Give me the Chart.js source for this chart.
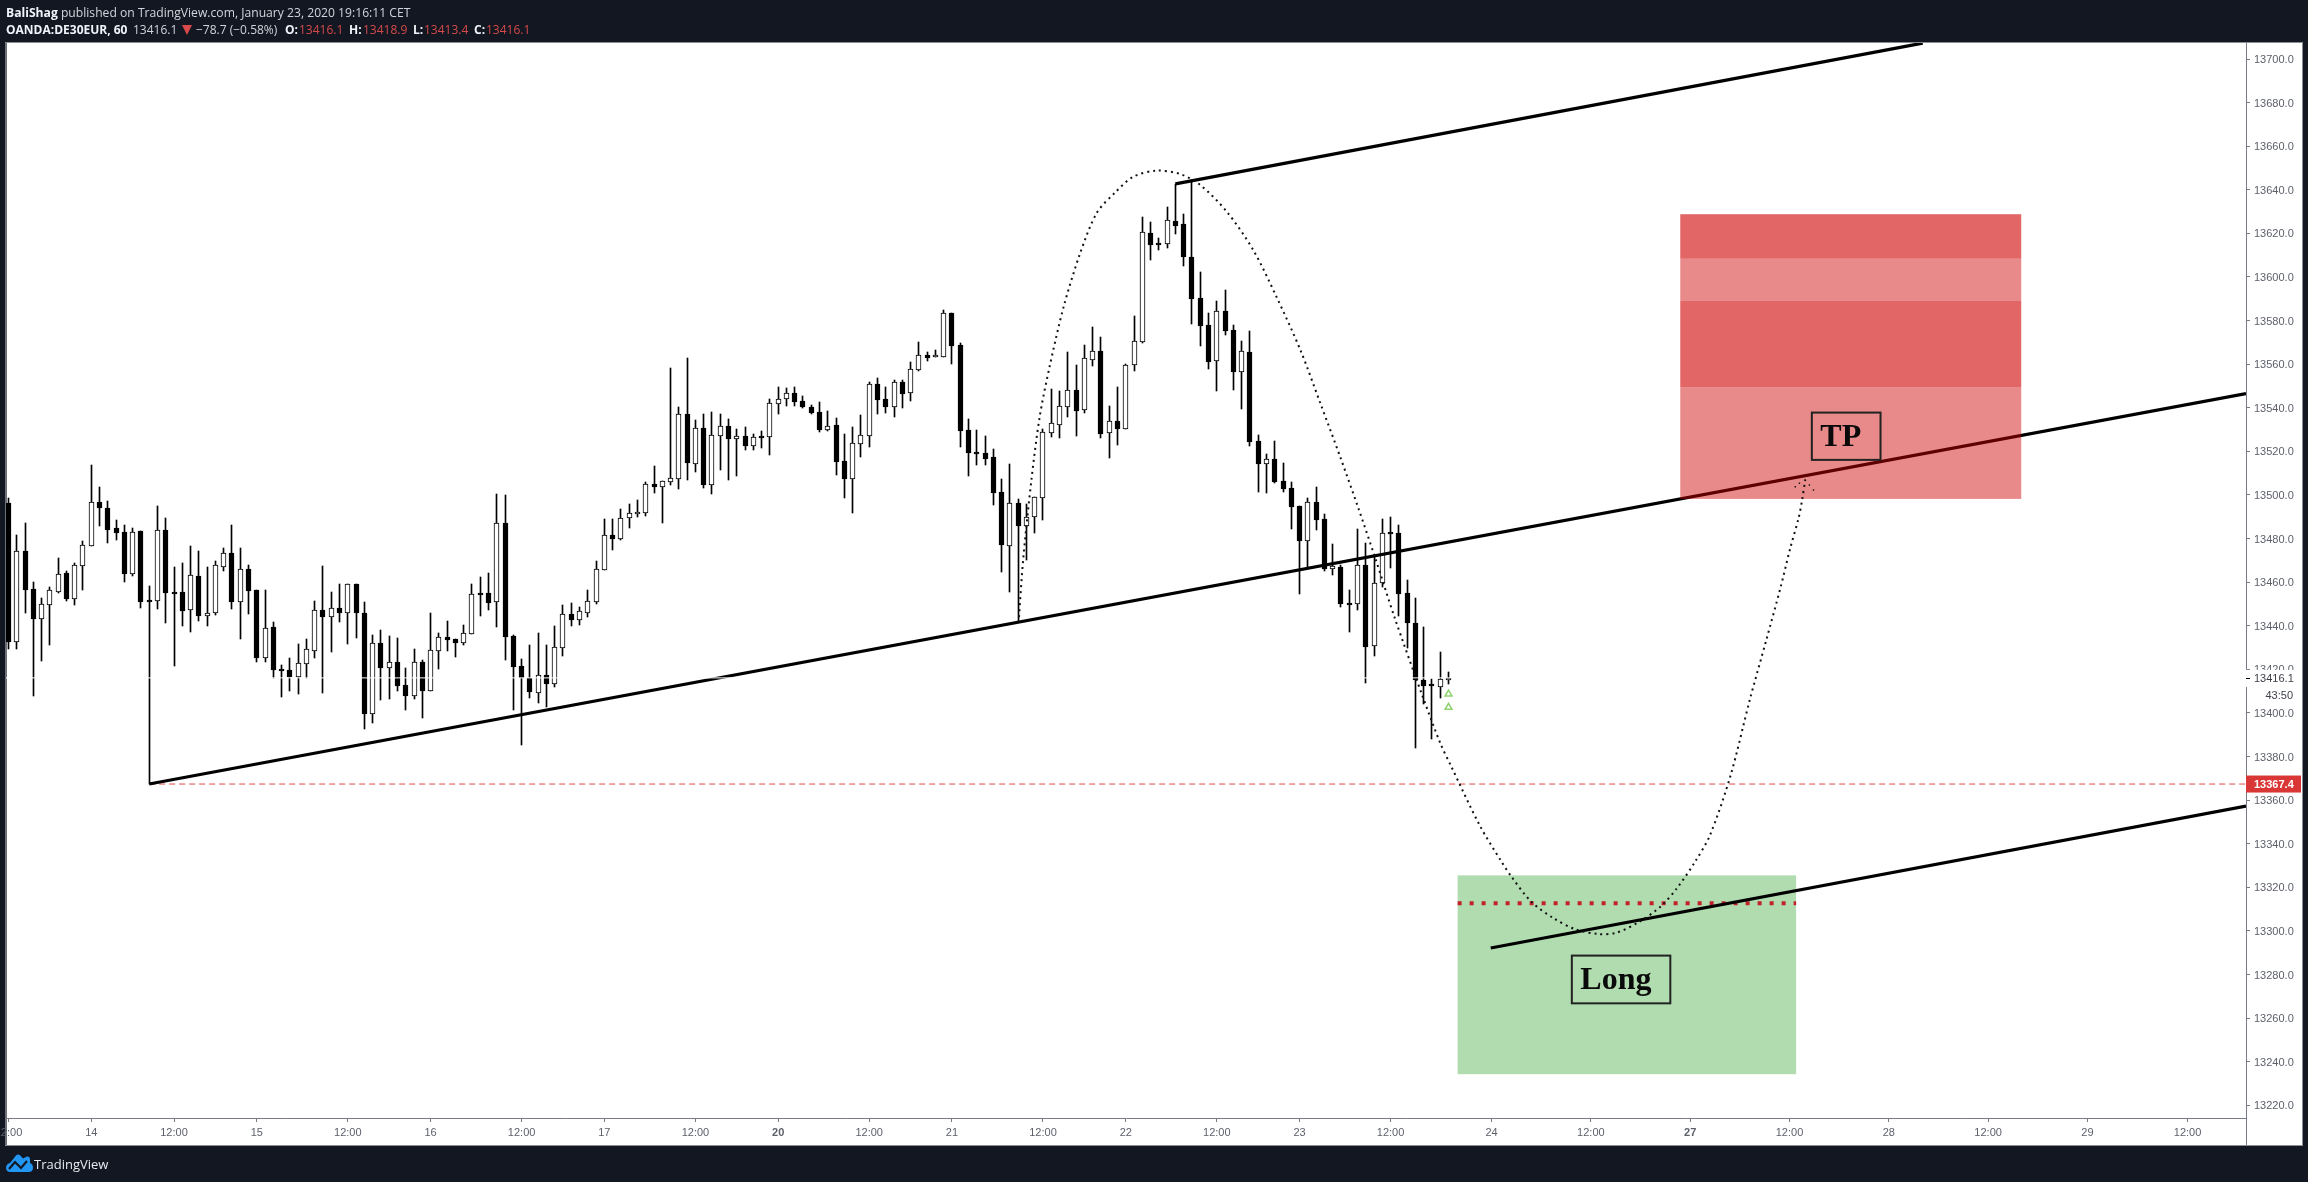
<!DOCTYPE html>
<html lang="en">

<head>
  <meta charset="UTF-8">
  <title>OANDA:DE30EUR, 60</title>
  <script src="https://cdn.jsdelivr.net/npm/chart.js"></script>
  <style>
    body {
      margin: 0;
      background-color: #131722;
      font-family: "Open Sans", sans-serif;
      font-size: 12px;
      color: #d1d4dc;
    }

    canvas {
      position: absolute;
      left: 0;
      top: 0;
    }

    .hd {
      position: absolute;
      white-space: nowrap;
      line-height: 16px;
    }

    .hd b {
      color: #f0f3fa;
    }

    .red {
      color: #d84a4a;
    }

    .down-arrow {
      position: absolute;
      left: 182px;
      top: 25px;
      width: 0;
      height: 0;
      border-left: 5px solid transparent;
      border-right: 5px solid transparent;
      border-top: 10px solid #d84a4a;
    }
  </style>
</head>

<body>
  <canvas id="priceChart" width="2308" height="1182"></canvas>

  <div class="hd" style="left:6px;top:5px;font-size:12.150px"><b>BaliShag</b> published on TradingView.com, January 23, 2020 19:16:11 CET</div>
  <div class="hd" style="left:6px;top:22px"><b>OANDA:DE30EUR, 60</b></div>
  <div class="hd" style="left:133px;top:22px">13416.1</div>
  <div class="down-arrow"></div>
  <div class="hd" style="left:196px;top:22px">−78.7 (−0.58%)</div>
  <div class="hd" style="left:285px;top:22px"><b>O:</b></div>
  <div class="hd red" style="left:299px;top:22px">13416.1</div>
  <div class="hd" style="left:349px;top:22px"><b>H:</b></div>
  <div class="hd red" style="left:363px;top:22px">13418.9</div>
  <div class="hd" style="left:413px;top:22px"><b>L:</b></div>
  <div class="hd red" style="left:424px;top:22px">13413.4</div>
  <div class="hd" style="left:474px;top:22px"><b>C:</b></div>
  <div class="hd red" style="left:486px;top:22px">13416.1</div>

  <svg style="position:absolute;left:6px;top:1154px" width="27" height="18" viewBox="0 0 27 18">
    <path fill="#2196f3" d="M0 14 C0 11 2 9.500 4 9 L10 1.500 C11 0.200 13 0.200 14 1.200 L17 4.500 L20 3 C22 2 24 3 24 5.500 L24 9 C26 9.500 27 11.500 27 14 C27 16.500 25 18 23 18 L4 18 C2 18 0 16.500 0 14 Z" />
    <path fill="none" stroke="#131722" stroke-width="2.200" d="M3 15 L9 8 L15 14 L21 7" />
  </svg>
  <div class="hd" style="left:34px;top:1156px;color:#e6e8ee;font-size:13px">TradingView</div>

  <script>
    // Hourly candles, one entry per bar
    const opens = [
      13496.2, 13432.7, 13474.3, 13456.9, 13443.2, 13449.7, 13455.6, 13464.2, 13452.4, 13467.6,
      13476.7, 13496.8, 13493.9, 13484.8, 13483.0, 13463.9, 13483.5, 13451.7, 13451.5, 13483.9,
      13455.3, 13455.5, 13447.1, 13462.8, 13444.6, 13445.8, 13467.1, 13473.4, 13451.0, 13466.0,
      13456.4, 13425.4, 13439.4, 13420.0, 13419.7, 13416.6, 13422.6, 13428.6, 13447.2, 13444.2,
      13448.1, 13446.0, 13459.1, 13445.8, 13399.7, 13432.1, 13420.8, 13423.4, 13412.8, 13407.9,
      13423.4, 13410.2, 13428.6, 13434.8, 13433.9, 13432.2, 13436.4, 13455.0, 13455.0, 13451.0,
      13487.1, 13435.3, 13421.4, 13416.2, 13409.3, 13417.3, 13413.5, 13430.0, 13445.4, 13442.8,
      13446.0, 13451.1, 13465.8, 13481.7, 13479.8, 13489.3, 13491.1, 13491.9, 13505.1, 13503.8,
      13506.1, 13507.5, 13537.2, 13514.4, 13530.7, 13504.6, 13527.2, 13531.7, 13525.9, 13526.9,
      13522.6, 13526.9, 13526.8, 13541.9, 13543.9, 13546.8, 13543.1, 13540.4, 13538.1, 13529.8,
      13532.1, 13515.6, 13507.5, 13523.6, 13527.2, 13550.9, 13544.0, 13540.5, 13551.8, 13546.7,
      13557.5, 13564.1, 13563.2, 13563.4, 13583.4, 13568.8, 13529.8, 13519.7, 13519.3, 13517.4,
      13501.2, 13476.6, 13496.4, 13485.8, 13490.1, 13498.8, 13528.6, 13532.3, 13540.5, 13548.2,
      13539.2, 13562.1, 13566.1, 13528.3, 13534.0, 13530.1, 13559.5, 13570.2, 13620.2, 13615.5,
      13615.0, 13625.7, 13624.3, 13609.2, 13590.4, 13578.0, 13561.6, 13584.4, 13575.7, 13556.6,
      13565.6, 13524.8, 13514.4, 13516.5, 13506.4, 13503.2, 13495.0, 13479.1, 13496.8, 13489.0,
      13466.2, 13466.8, 13450.5, 13450.2, 13467.9, 13430.6, 13459.5, 13483.0, 13482.6, 13455.1,
      13441.3, 13415.0, 13413.3, 13412.1, 13416.1
    ];
    const highs = [
      13498.4, 13481.6, 13487.0, 13460.1, 13452.6, 13457.8, 13471.1, 13465.1, 13468.6, 13478.7,
      13513.7, 13503.6, 13497.2, 13488.5, 13486.2, 13484.7, 13483.6, 13458.2, 13494.9, 13489.3,
      13466.9, 13468.8, 13476.4, 13474.1, 13466.9, 13469.5, 13475.5, 13486.2, 13475.5, 13467.7,
      13456.4, 13456.4, 13441.7, 13422.0, 13425.2, 13431.6, 13433.9, 13451.3, 13467.4, 13455.5,
      13459.1, 13459.1, 13459.1, 13450.9, 13435.8, 13438.0, 13435.3, 13434.4, 13420.6, 13429.2,
      13424.3, 13445.8, 13436.7, 13442.2, 13433.9, 13440.3, 13459.1, 13462.4, 13464.2, 13500.4,
      13500.0, 13435.8, 13424.8, 13431.2, 13436.7, 13431.2, 13439.9, 13449.6, 13450.5, 13448.6,
      13456.4, 13469.7, 13489.0, 13489.0, 13493.6, 13495.9, 13497.7, 13506.0, 13513.3, 13506.3,
      13558.3, 13540.4, 13562.9, 13534.4, 13537.2, 13538.1, 13537.2, 13534.9, 13530.3, 13531.1,
      13527.8, 13529.4, 13544.0, 13549.6, 13548.9, 13549.6, 13545.4, 13541.3, 13542.7, 13538.5,
      13535.3, 13528.0, 13531.2, 13536.7, 13551.8, 13553.7, 13549.6, 13552.6, 13552.6, 13561.0,
      13570.2, 13565.5, 13566.5, 13584.8, 13583.4, 13569.7, 13534.9, 13529.8, 13527.1, 13521.1,
      13507.4, 13514.2, 13498.2, 13495.7, 13499.3, 13530.1, 13548.6, 13547.7, 13565.6, 13559.7,
      13568.8, 13577.1, 13572.5, 13540.8, 13549.6, 13560.0, 13582.1, 13627.5, 13625.2, 13617.9,
      13632.1, 13642.7, 13628.9, 13644.5, 13602.3, 13583.5, 13589.0, 13594.1, 13578.0, 13570.7,
      13575.2, 13527.5, 13518.8, 13524.8, 13514.7, 13506.0, 13495.0, 13498.6, 13503.7, 13491.3,
      13477.5, 13467.9, 13456.4, 13484.3, 13477.8, 13471.4, 13489.0, 13489.9, 13486.3, 13461.0,
      13452.8, 13439.5, 13415.6, 13428.0, 13418.9
    ];
    const lows = [
      13429.3, 13429.3, 13446.0, 13407.8, 13424.0, 13431.2, 13455.2, 13451.5, 13449.5, 13456.4,
      13476.5, 13485.8, 13478.0, 13479.3, 13460.1, 13462.8, 13448.1, 13367.4, 13447.7, 13441.3,
      13421.5, 13439.9, 13437.1, 13442.2, 13439.9, 13444.9, 13465.1, 13447.7, 13433.9, 13445.4,
      13423.4, 13423.4, 13416.0, 13407.3, 13410.1, 13408.7, 13416.0, 13425.2, 13409.2, 13428.0,
      13441.7, 13431.6, 13434.4, 13392.6, 13395.4, 13405.9, 13406.4, 13410.1, 13401.4, 13406.4,
      13397.7, 13410.2, 13420.2, 13428.4, 13425.7, 13431.2, 13436.4, 13444.5, 13447.2, 13439.4,
      13424.3, 13401.4, 13385.5, 13406.9, 13404.6, 13402.8, 13411.9, 13426.2, 13439.9, 13440.4,
      13444.1, 13450.0, 13465.8, 13474.8, 13479.4, 13484.9, 13489.9, 13490.4, 13500.9, 13487.2,
      13504.6, 13502.8, 13506.9, 13510.6, 13503.2, 13500.5, 13511.5, 13506.9, 13508.7, 13520.7,
      13520.7, 13521.6, 13518.4, 13537.2, 13540.8, 13540.8, 13539.9, 13537.2, 13528.9, 13529.4,
      13509.2, 13498.6, 13491.8, 13517.4, 13522.0, 13537.2, 13537.6, 13535.8, 13539.9, 13543.1,
      13556.9, 13561.5, 13563.2, 13563.4, 13560.1, 13522.0, 13508.7, 13513.8, 13513.8, 13495.4,
      13464.7, 13455.5, 13441.6, 13470.2, 13482.6, 13488.6, 13526.6, 13526.2, 13535.8, 13527.1,
      13537.6, 13559.2, 13526.2, 13517.0, 13523.0, 13530.1, 13556.9, 13569.7, 13607.8, 13612.4,
      13613.3, 13619.7, 13605.1, 13578.5, 13568.4, 13557.8, 13547.7, 13573.4, 13548.2, 13539.5,
      13522.5, 13501.4, 13500.9, 13505.5, 13501.4, 13484.4, 13454.6, 13466.4, 13484.0, 13465.2,
      13463.3, 13448.6, 13437.2, 13447.3, 13413.9, 13426.2, 13458.0, 13466.5, 13444.5, 13429.8,
      13384.0, 13404.2, 13388.1, 13406.9, 13413.4
    ];
    const closes = [
      13432.7, 13474.3, 13456.6, 13443.1, 13449.8, 13456.2, 13463.6, 13452.3, 13467.7, 13476.9,
      13496.6, 13494.0, 13484.1, 13482.5, 13463.7, 13482.8, 13450.9, 13451.0, 13483.8, 13455.0,
      13455.2, 13446.8, 13463.1, 13444.5, 13445.7, 13467.7, 13473.2, 13450.9, 13465.9, 13455.9,
      13425.2, 13438.8, 13419.7, 13419.4, 13416.5, 13422.8, 13429.2, 13447.1, 13444.0, 13448.0,
      13445.8, 13459.0, 13445.8, 13399.5, 13431.9, 13420.6, 13423.2, 13412.4, 13407.8, 13423.2,
      13410.1, 13428.7, 13434.7, 13433.6, 13432.1, 13436.5, 13454.4, 13454.1, 13450.4, 13487.0,
      13434.8, 13421.1, 13416.1, 13409.7, 13417.3, 13413.3, 13430.1, 13445.3, 13442.7, 13446.7,
      13451.2, 13465.9, 13481.5, 13479.8, 13489.3, 13491.6, 13492.1, 13504.9, 13503.7, 13506.3,
      13507.7, 13537.0, 13514.7, 13530.6, 13504.6, 13527.4, 13531.5, 13525.7, 13526.9, 13522.5,
      13526.5, 13526.3, 13542.1, 13543.9, 13546.6, 13542.7, 13540.4, 13537.6, 13529.8, 13531.5,
      13515.2, 13507.4, 13523.7, 13527.4, 13550.8, 13543.6, 13540.4, 13551.7, 13546.3, 13557.7,
      13564.1, 13562.9, 13564.1, 13583.3, 13568.3, 13529.4, 13519.3, 13519.0, 13516.5, 13500.9,
      13477.1, 13496.2, 13485.8, 13489.8, 13499.0, 13528.8, 13532.9, 13540.7, 13548.0, 13538.6,
      13562.7, 13565.9, 13528.0, 13533.8, 13530.3, 13559.5, 13570.5, 13620.5, 13614.7, 13614.9,
      13626.0, 13623.4, 13609.2, 13589.9, 13577.5, 13561.0, 13584.3, 13575.2, 13556.4, 13565.9,
      13524.3, 13514.2, 13516.4, 13506.0, 13502.8, 13494.5, 13478.9, 13496.7, 13488.6, 13466.1,
      13467.5, 13450.0, 13450.0, 13467.8, 13430.3, 13459.5, 13482.4, 13482.3, 13454.6, 13441.3,
      13415.2, 13412.4, 13412.6, 13415.5, 13416.1
    ];

    // Time axis: bar position of each tick and its text
    const timeTickBars = [0, 10, 20, 30, 41, 51, 62, 72, 83, 93, 104, 114, 125, 135, 146, 156, 167, 179.2, 191.2, 203.2, 215.2, 227.2, 239.2, 251.2, 263.3];
    const timeTickLabels = ['12:00', '14', '12:00', '15', '12:00', '16', '12:00', '17', '12:00', '20', '12:00', '21', '12:00', '22', '12:00', '23', '12:00', '24', '12:00', '27', '12:00', '28', '12:00', '29', '12:00'];
    const boldTimeLabels = ['20', '27'];

    // Drawn levels and trend lines
    const lastPrice = 13416.1;
    const countdown = '43:50';
    const alertPrice = 13367.4;
    const alertFromBar = 17;
    const midTrendBars = [17, 270.36];
    const midTrendPrices = [13367.4, 13546.5];
    const topTrendBars = [141, 231.3];
    const topTrendPrices = [13642.7, 13707.3];
    const lowTrendBars = [179.1, 270.36];
    const lowTrendPrices = [13292.2, 13357.3];
    const entryPrice = 13312.7;
    const signalBars = [174, 174];
    const signalPrices = [13408.7, 13402.6];

    // Hand drawn projected path
    const pathBars = [122.1, 122.6, 123.6, 124.6, 125.8, 127.5, 129.5, 131.5, 133.7, 135.9, 138.7, 141.6, 144.0, 147.2, 150.4, 153.2, 156.1, 158.5, 160.9, 163.1, 165.1, 167.5, 170.9, 173.0, 174.3, 177.8, 180.4, 181.6, 184.0, 186.7, 189.3, 192.1, 194.3, 197.1, 199.6, 201.6, 203.8, 205.6, 208.1, 210.4, 212.4, 214.1, 215.3, 216.3, 216.7, 217.1];
    const pathPrices = [13444.0, 13470.2, 13506.9, 13535.9, 13558.9, 13586.4, 13611.0, 13629.4, 13638.7, 13646.0, 13648.8, 13647.2, 13642.2, 13630.0, 13612.4, 13591.0, 13566.5, 13542.2, 13517.6, 13494.0, 13471.6, 13443.6, 13407.3, 13386.2, 13375.7, 13348.2, 13331.8, 13324.9, 13313.4, 13305.8, 13300.8, 13298.6, 13299.2, 13304.3, 13311.1, 13319.6, 13331.8, 13344.0, 13371.6, 13406.0, 13433.5, 13457.3, 13475.7, 13489.4, 13497.2, 13506.9];
    const arrowBars = [215.9, 216.4, 217.1, 217.6, 218.1];
    const arrowPrices = [13503.8, 13505.4, 13506.9, 13504.6, 13502.3];

    // Zones
    const longZoneBars = [175.1, 216.0];
    const longZonePrices = [13325.5, 13234.3];
    const tpZoneBars = [202.0, 243.2];
    const tpDarkBands = [[13628.8, 13608.4], [13589.0, 13549.4]];
    const tpLightBands = [[13608.4, 13589.0], [13549.4, 13498.2]];

    // Boxed captions
    const captionTexts = ['Long', 'TP'];
    const captionBars = [[188.9, 200.8], [217.9, 226.2]];
    const captionPrices = [[13288.7, 13266.8], [13537.8, 13516.1]];

    const axisColor = '#787b86';
    const textColor = '#5d606b';
    const axisFont = '"Liberation Sans", sans-serif';

    const barPoints = (a, b) => a.map((v, i) => ({ x: i, y: [v, b[i]] }));
    const linePoints = (xs, ys) => xs.map((x, i) => ({ x: x, y: ys[i] }));
    const bullish = opens.map((o, i) => closes[i] >= o);

    function fillBand(chart, bars, prices, color) {
      const { x, y } = chart.scales;
      const left = x.getPixelForValue(bars[0]);
      const top = y.getPixelForValue(prices[0]);
      chart.ctx.fillStyle = color;
      chart.ctx.fillRect(left, top, x.getPixelForValue(bars[1]) - left, y.getPixelForValue(prices[1]) - top);
    }

    // Panel, zones, caption boxes and price axis tags
    const overlayPlugin = {
      id: 'overlay',
      beforeDraw(chart) {
        const ctx = chart.ctx;
        ctx.fillStyle = '#fff';
        ctx.fillRect(6, 43, 2296, 1102);
        ctx.strokeStyle = '#8a8d96';
        ctx.strokeRect(5.5, 42.5, 2297, 1103);
        // heavier rule on the left side of the panel
        ctx.fillStyle = '#6d717c';
        ctx.fillRect(5, 43, 2, 1102);
      },
      beforeDatasetsDraw(chart) {
        // keep candles on whole pixels
        chart.getSortedVisibleDatasetMetas().forEach(meta => {
          if (meta.type !== 'bar') return;
          const isBody = meta.label === 'body';
          meta.data.forEach(el => {
            el.x = Math.floor(el.x) + 0.5;
            const top = Math.round(Math.min(el.y, el.base));
            let bottom = Math.round(Math.max(el.y, el.base));
            if (isBody && bottom - top < 2) bottom = top + 2;
            el.y = top;
            el.base = bottom;
          });
        });
        fillBand(chart, longZoneBars, longZonePrices, '#b0dcb0');
      },
      beforeDatasetDraw(chart, args) {
        if (chart.data.datasets[args.index].label !== 'path') return;
        tpDarkBands.forEach(b => fillBand(chart, tpZoneBars, b, 'rgba(207,0,0,0.6)'));
        tpLightBands.forEach(b => fillBand(chart, tpZoneBars, b, 'rgba(207,0,0,0.46)'));
      },
      afterDatasetsDraw(chart) {
        const { ctx } = chart;
        const { x, y } = chart.scales;
        captionTexts.forEach((text, i) => {
          const left = x.getPixelForValue(captionBars[i][0]);
          const right = x.getPixelForValue(captionBars[i][1]);
          const top = y.getPixelForValue(captionPrices[i][0]);
          const bottom = y.getPixelForValue(captionPrices[i][1]);
          ctx.strokeStyle = '#222';
          ctx.lineWidth = 2;
          ctx.strokeRect(left, top, right - left, bottom - top);
          ctx.fillStyle = '#0a0a0a';
          ctx.font = 'bold 32px "Liberation Serif", serif';
          ctx.textAlign = 'left';
          ctx.textBaseline = 'alphabetic';
          ctx.fillText(text, left + 8.5, bottom - 14);
        });
      },
      afterDraw(chart) {
        const { ctx, chartArea } = chart;
        const y = chart.scales.y;
        const axisX = chartArea.right;
        ctx.save();
        // axis line runs on through the time scale
        ctx.strokeStyle = axisColor;
        ctx.lineWidth = 1;
        ctx.beginPath();
        ctx.moveTo(axisX + 0.5, chartArea.bottom);
        ctx.lineTo(axisX + 0.5, 1145);
        ctx.stroke();

        ctx.font = '11px ' + axisFont;
        ctx.textBaseline = 'middle';
        ctx.textAlign = 'left';
        const lastY = y.getPixelForValue(lastPrice);
        ctx.fillStyle = '#fff';
        ctx.fillRect(axisX - 1, lastY - 8, 56, 17);
        ctx.fillStyle = '#000';
        ctx.fillRect(axisX, Math.round(lastY), 4, 1);
        ctx.fillStyle = '#3c3f48';
        ctx.fillText(lastPrice.toFixed(1), axisX + 8, lastY + 1);
        ctx.textAlign = 'right';
        ctx.fillText(countdown, axisX + 47, lastY + 18.5);

        const alertY = y.getPixelForValue(alertPrice);
        ctx.fillStyle = '#d93636';
        ctx.fillRect(axisX, alertY - 8.5, 55, 17);
        ctx.fillStyle = '#fff';
        ctx.font = 'bold 11px ' + axisFont;
        ctx.textAlign = 'left';
        ctx.fillText(alertPrice.toFixed(1), axisX + 8, alertY + 1);
        ctx.restore();
      }
    };

    new Chart(document.getElementById('priceChart'), {
      type: 'bar',
      data: {
        datasets: [
          {
            label: 'wick',
            order: 20,
            data: barPoints(lows, highs),
            barThickness: 1,
            grouped: false,
            backgroundColor: '#000'
          },
          {
            label: 'body',
            order: 19,
            data: barPoints(opens, closes),
            barThickness: 5,
            grouped: false,
            borderSkipped: false,
            borderWidth: 1,
            borderColor: '#000',
            backgroundColor: bullish.map(up => up ? '#fff' : '#000')
          },
          {
            type: 'line',
            label: 'entry',
            order: 18,
            data: linePoints(longZoneBars, [entryPrice, entryPrice]),
            borderColor: '#c4202a',
            borderWidth: 4,
            borderDash: [4, 8],
            pointRadius: 0
          },
          {
            type: 'line',
            label: 'alert',
            order: 17,
            data: linePoints([alertFromBar, 270.36], [alertPrice, alertPrice]),
            borderColor: '#e04848',
            borderWidth: 1,
            borderDash: [6, 4],
            pointRadius: 0
          },
          {
            type: 'line',
            label: 'midTrend',
            order: 15,
            data: linePoints(midTrendBars, midTrendPrices),
            borderColor: '#000',
            borderWidth: 3.200,
            pointRadius: 0
          },
          {
            type: 'line',
            label: 'topTrend',
            order: 15,
            data: linePoints(topTrendBars, topTrendPrices),
            borderColor: '#000',
            borderWidth: 3.200,
            pointRadius: 0
          },
          {
            type: 'line',
            label: 'lowTrend',
            order: 15,
            data: linePoints(lowTrendBars, lowTrendPrices),
            borderColor: '#000',
            borderWidth: 3.200,
            pointRadius: 0
          },
          {
            type: 'line',
            label: 'last',
            order: 14,
            data: linePoints([-0.302, 270.36], [lastPrice, lastPrice]),
            borderColor: '#fff',
            borderWidth: 1,
            pointRadius: 0
          },
          {
            type: 'line',
            label: 'path',
            order: 12,
            data: linePoints(pathBars, pathPrices),
            borderColor: '#111',
            borderWidth: 2,
            borderDash: [2, 4],
            tension: 0.3,
            pointRadius: 0
          },
          {
            type: 'line',
            label: 'arrow',
            order: 11,
            data: linePoints(arrowBars, arrowPrices),
            showLine: false,
            pointStyle: 'rect',
            pointRadius: 1,
            pointBorderWidth: 0,
            pointBackgroundColor: '#111'
          },
          {
            type: 'line',
            label: 'signals',
            order: 10,
            data: linePoints(signalBars, signalPrices),
            showLine: false,
            pointStyle: 'triangle',
            pointRadius: 4,
            pointBorderWidth: 1.500,
            pointBorderColor: '#8fd46e',
            pointBackgroundColor: '#fff'
          }
        ]
      },
      options: {
        responsive: false,
        animation: false,
        events: [],
        layout: { padding: { left: 6, top: 43, right: 6, bottom: 37 } },
        plugins: { legend: { display: false }, tooltip: { enabled: false } },
        scales: {
          x: {
            type: 'linear',
            offset: false,
            min: -0.302,
            max: 270.36,
            border: { color: axisColor },
            grid: { offset: false, drawOnChartArea: false, color: axisColor, tickLength: 4 },
            afterBuildTicks(scale) {
              scale.ticks = timeTickBars.map(v => ({ value: v }));
            },
            afterFit(scale) {
              scale.height = 27;
              scale.paddingLeft = 0;
              scale.paddingRight = 0;
            },
            ticks: {
              autoSkip: false,
              maxRotation: 0,
              padding: 4,
              color: textColor,
              font: ctx => ({
                family: axisFont,
                size: 11,
                weight: boldTimeLabels.includes(ctx.tick && ctx.tick.label) ? 'bold' : 'normal'
              }),
              callback: (value, index) => timeTickLabels[index]
            }
          },
          y: {
            position: 'right',
            min: 13214.2,
            max: 13707.34,
            border: { color: axisColor },
            grid: { drawOnChartArea: false, color: axisColor, tickLength: 4 },
            afterFit(scale) {
              scale.width = 56;
              scale.paddingTop = 0;
              scale.paddingBottom = 0;
            },
            ticks: {
              stepSize: 20,
              autoSkip: false,
              includeBounds: false,
              padding: 4,
              labelOffset: 1,
              color: textColor,
              font: { family: axisFont, size: 11 },
              callback: value => value.toFixed(1)
            }
          }
        }
      },
      plugins: [overlayPlugin]
    });
  </script>
</body>

</html>
